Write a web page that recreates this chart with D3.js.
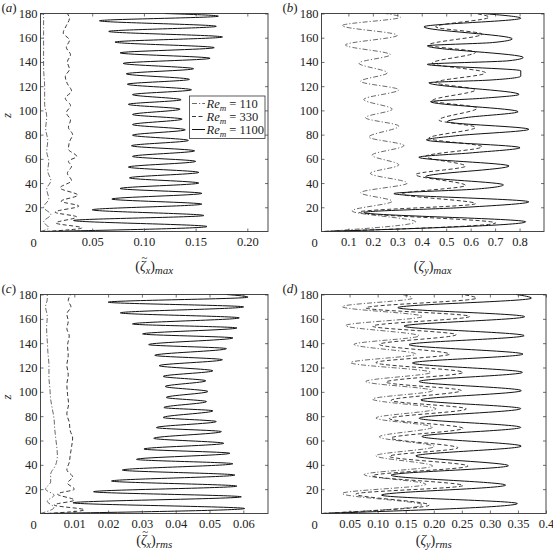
<!DOCTYPE html>
<html>
<head>
<meta charset="utf-8">
<script src="https://cdn.jsdelivr.net/npm/d3@7"></script>
<style>
  body { margin: 0; background: #fff; }
  text { font-family: "Liberation Serif", "DejaVu Serif", serif; fill: #222; }
</style>
</head>
<body>
<div id="chart"></div>
<script>
// z axis ticks shared by all panels
const zTicks = [20, 40, 60, 80, 100, 120, 140, 160, 180];

// x tick values / labels per panel
const ticksA = [0.05, 0.10, 0.15, 0.20];
const labelsA = ["0.05", "0.10", "0.15", "0.20"];
const ticksB = [0.1, 0.2, 0.3, 0.4, 0.5, 0.6, 0.7, 0.8];
const labelsB = ["0.1", "0.2", "0.3", "0.4", "0.5", "0.6", "0.7", "0.8"];
const ticksC = [0.01, 0.02, 0.03, 0.04, 0.05, 0.06];
const labelsC = ["0.01", "0.02", "0.03", "0.04", "0.05", "0.06"];
const ticksD = [0.05, 0.10, 0.15, 0.20, 0.25, 0.30, 0.35, 0.40];
const labelsD = ["0.05", "0.10", "0.15", "0.20", "0.25", "0.30", "0.35", "0.4"];

const legendRe = ["110", "330", "1100"];

// (a) max of tilde zeta_x
const a110z = [0, 3, 8, 14, 20, 27, 35, 42, 50, 58, 66, 75, 85, 95, 105, 120, 135, 150, 165, 180];
const a110v = [0.0, 0.008, 0.003, 0.010, 0.003, 0.008, 0.006, 0.010, 0.007, 0.008, 0.006, 0.007, 0.005, 0.006, 0.004, 0.004, 0.003, 0.003, 0.003, 0.003];
const a330z = [0, 3, 7, 12, 16, 21, 25, 30, 36, 42, 48, 54, 58, 62, 68, 74, 80, 86, 92, 98, 104, 110, 116, 122, 128, 134, 140, 146, 152, 158, 164, 170, 176, 180];
const a330v = [0.005, 0.040, 0.015, 0.035, 0.014, 0.037, 0.020, 0.036, 0.019, 0.030, 0.026, 0.030, 0.027, 0.035, 0.027, 0.028, 0.031, 0.027, 0.029, 0.025, 0.029, 0.024, 0.030, 0.026, 0.024, 0.028, 0.026, 0.029, 0.025, 0.028, 0.022, 0.025, 0.028, 0.026];
const a1100z = [0, 4.1, 9.1, 13.2, 17.9, 22.6, 26.8, 31.5, 35.5, 40, 44.3, 48.8, 53.2, 57.9, 62, 66.6, 70.8, 75.2, 79.5, 84, 88.3, 92.8, 96.6, 101, 105, 108.8, 113, 117, 121.6, 125.6, 130.2, 134.4, 138.8, 143, 147.5, 151.8, 156.4, 160.6, 165.2, 169.4, 174, 177.8, 180];
const a1100v = [0.002, 0.161, 0.032, 0.158, 0.050, 0.156, 0.069, 0.156, 0.077, 0.153, 0.086, 0.153, 0.085, 0.150, 0.089, 0.149, 0.088, 0.143, 0.089, 0.140, 0.089, 0.137, 0.089, 0.135, 0.085, 0.136, 0.089, 0.146, 0.084, 0.144, 0.083, 0.148, 0.080, 0.164, 0.077, 0.168, 0.072, 0.176, 0.066, 0.170, 0.057, 0.172, 0.12];

// (b) max of zeta_y
const b110z = [0, 8, 17, 25, 32, 40, 48, 55, 63, 71, 78, 87, 94, 101, 109, 117, 124, 131, 139, 146, 154, 162, 170, 177, 180];
const b110v = [0.0, 0.375, 0.115, 0.279, 0.150, 0.341, 0.190, 0.306, 0.197, 0.327, 0.184, 0.306, 0.170, 0.279, 0.163, 0.306, 0.150, 0.259, 0.143, 0.272, 0.088, 0.300, 0.075, 0.313, 0.252];
const b330z = [0, 7, 16, 23, 31, 38, 47, 54, 62, 70, 77, 86, 92, 102, 108, 117, 123, 131, 139, 148, 154, 163, 169, 177, 180];
const b330v = [0.0, 0.702, 0.143, 0.620, 0.320, 0.579, 0.375, 0.579, 0.416, 0.647, 0.429, 0.620, 0.470, 0.627, 0.443, 0.620, 0.457, 0.661, 0.443, 0.620, 0.429, 0.647, 0.457, 0.675, 0.620];
const b1100z = [0, 8, 15.7, 19.8, 24.5, 31.3, 35, 38.5, 45.3, 54.1, 61.3, 65, 69.2, 75.6, 79, 84.4, 90.7, 94, 98.9, 107.2, 110, 113.2, 122.8, 125, 128.3, 132.7, 138, 141, 143.7, 153.3, 156, 159.1, 169, 176.1, 180];
const b1100v = [0.0, 0.825, 0.163, 0.566, 0.838, 0.286, 0.620, 0.734, 0.416, 0.757, 0.388, 0.607, 0.802, 0.419, 0.538, 0.838, 0.504, 0.580, 0.794, 0.436, 0.648, 0.798, 0.429, 0.675, 0.805, 0.805, 0.423, 0.757, 0.815, 0.423, 0.689, 0.770, 0.409, 0.805, 0.648];

// (c) rms of tilde zeta_x
const c110z = [0, 5, 10, 15, 20, 26, 32, 40, 48, 55, 62, 70, 78, 86, 94, 102, 112, 122, 132, 142, 152, 162, 170, 176, 180];
const c110v = [0.0, 0.004, 0.002, 0.004, 0.0015, 0.003, 0.003, 0.0045, 0.005, 0.0048, 0.0045, 0.0042, 0.004, 0.0035, 0.003, 0.0028, 0.0025, 0.0025, 0.0022, 0.002, 0.0018, 0.002, 0.0015, 0.002, 0.002];
const c330z = [0, 3, 7, 11, 16, 20, 25, 30, 36, 42, 48, 55, 62, 68, 75, 82, 90, 98, 106, 114, 122, 130, 138, 146, 152, 158, 164, 170, 175, 180];
const c330v = [0.002, 0.013, 0.004, 0.010, 0.005, 0.010, 0.008, 0.0095, 0.0078, 0.0085, 0.0088, 0.0092, 0.0095, 0.0088, 0.0085, 0.0078, 0.0083, 0.008, 0.0078, 0.0082, 0.0078, 0.0082, 0.008, 0.0085, 0.0078, 0.0082, 0.0078, 0.009, 0.0082, 0.009];
const c1100z = [0, 4.1, 8.8, 13.7, 17.9, 22.5, 26.7, 31.6, 35.7, 40.9, 44.5, 49.5, 53, 57.7, 61.8, 67.3, 70.6, 75.6, 78.9, 84.4, 87.1, 92, 95.4, 100.3, 104.4, 109.1, 112.7, 117.3, 121.5, 126.4, 130, 135.5, 138.8, 144.3, 147.6, 152.5, 155.8, 160.8, 164.9, 169.8, 173.7, 177.8, 180];
const c1100v = [0.001, 0.0604, 0.0096, 0.0594, 0.0157, 0.0581, 0.0210, 0.0575, 0.0242, 0.0569, 0.0284, 0.0560, 0.0306, 0.0542, 0.0335, 0.0535, 0.0343, 0.0520, 0.0363, 0.0510, 0.0365, 0.0491, 0.0372, 0.0495, 0.0369, 0.0489, 0.0363, 0.0510, 0.0351, 0.0538, 0.0338, 0.0550, 0.0320, 0.0569, 0.0302, 0.0581, 0.0272, 0.0588, 0.0236, 0.0601, 0.0200, 0.0614, 0.055];

// (d) rms of zeta_y
const d110z = [0, 7, 16.5, 24, 32, 39, 47.5, 55, 63, 71, 78.5, 86, 94, 101, 108.5, 116, 124, 131, 139, 146, 154.5, 162, 170, 177, 180];
const d110v = [0.001, 0.180, 0.037, 0.186, 0.076, 0.198, 0.097, 0.201, 0.103, 0.198, 0.097, 0.204, 0.091, 0.198, 0.079, 0.195, 0.052, 0.168, 0.058, 0.174, 0.043, 0.180, 0.037, 0.162, 0.144];
const d330z = [0, 7, 16, 23, 31, 39, 47, 54, 62, 70, 78, 86, 93, 101, 108, 116, 124, 131, 139, 147, 154, 162, 169, 177, 180];
const d330v = [0.001, 0.192, 0.061, 0.252, 0.091, 0.261, 0.121, 0.243, 0.124, 0.252, 0.121, 0.258, 0.124, 0.249, 0.115, 0.252, 0.097, 0.228, 0.103, 0.240, 0.091, 0.264, 0.079, 0.276, 0.252];
const d1100z = [0, 8.2, 15.1, 23.3, 31.5, 39.3, 47.3, 55.4, 63.3, 70.8, 78.3, 86.2, 93.3, 101, 108.5, 116, 123.7, 131, 138.8, 146.2, 154, 161.8, 169.2, 177, 180];
const d1100v = [0.001, 0.349, 0.107, 0.328, 0.124, 0.333, 0.168, 0.356, 0.179, 0.355, 0.174, 0.355, 0.177, 0.356, 0.174, 0.358, 0.162, 0.359, 0.156, 0.361, 0.147, 0.362, 0.136, 0.374, 0.347];

const dashes = ["5,2,1.2,2", "4,2.5", null];
const strokes = ["#444", "#222", "#111"];
const widths = [0.8, 0.9, 1.0];

const panels = [
  { tag: "a", box: [40.5, 268, 13.5, 231.5], dom: [0, 0.22], ticks: ticksA, labels: labelsA, comp: "x", sub: "max", tilde: true, zlab: true, labOff: 39,
    series: [[a110z, a110v], [a330z, a330v], [a1100z, a1100v]], legend: true },
  { tag: "b", box: [321.5, 544, 13.5, 231.5], dom: [-0.01, 0.9], ticks: ticksB, labels: labelsB, comp: "y", sub: "max", tilde: false, zlab: false, labOff: 39,
    series: [[b110z, b110v], [b330z, b330v], [b1100z, b1100v]] },
  { tag: "c", box: [40.5, 268, 294.5, 513.5], dom: [0, 0.0673], ticks: ticksC, labels: labelsC, comp: "x", sub: "rms", tilde: true, zlab: true, labOff: 31,
    series: [[c110z, c110v], [c330z, c330v], [c1100z, c1100v]] },
  { tag: "d", box: [321.5, 546, 294.5, 513.5], dom: [0, 0.4], ticks: ticksD, labels: labelsD, comp: "y", sub: "rms", tilde: false, zlab: false, labOff: 31,
    series: [[d110z, d110v], [d330z, d330v], [d1100z, d1100v]] }
];

const svg = d3.select("#chart").append("svg")
  .attr("width", 553)
  .attr("height", 553);

panels.forEach(p => {
  const [l, r, t, b] = p.box;
  const x = d3.scaleLinear().domain(p.dom).range([l, r]);
  const y = d3.scaleLinear().domain([0, 180]).range([b, t]);
  const g = svg.append("g");

  const line = d3.line()
    .x(d => x(d[1]))
    .y(d => y(d[0]))
    .curve(d3.curveMonotoneY);

  p.series.forEach((s, i) => {
    const pts = s[0].map((z, k) => [z, s[1][k]]);
    g.append("path")
      .attr("d", line(pts))
      .attr("fill", "none")
      .attr("stroke", strokes[i])
      .attr("stroke-width", widths[i])
      .attr("stroke-dasharray", dashes[i]);
  });

  // axes, matlab style ticks pointing inwards
  g.append("g").attr("transform", `translate(0,${b})`)
    .call(d3.axisBottom(x).tickValues(p.ticks).tickFormat((d, i) => p.labels[i]).tickSize(-3).tickPadding(6));
  g.append("g").attr("transform", `translate(0,${t})`)
    .call(d3.axisTop(x).tickValues(p.ticks).tickFormat("").tickSize(-3));
  g.append("g").attr("transform", `translate(${l},0)`)
    .call(d3.axisLeft(y).tickValues(zTicks).tickSize(-3).tickPadding(3));
  g.append("g").attr("transform", `translate(${r},0)`)
    .call(d3.axisRight(y).tickValues(zTicks).tickFormat("").tickSize(-3));
  g.selectAll(".domain").remove();
  g.selectAll(".tick line").attr("stroke", "#333").attr("stroke-width", 0.7);
  g.selectAll(".tick text").style("font-family", "Liberation Serif").style("font-size", "12.5px").attr("fill", "#222");

  g.append("rect")
    .attr("x", l).attr("y", t)
    .attr("width", r - l).attr("height", b - t)
    .attr("fill", "none").attr("stroke", "#333").attr("stroke-width", 0.9);

  // corner zero
  g.append("text")
    .attr("x", l - 7).attr("y", b + 15)
    .attr("text-anchor", "middle")
    .style("font-size", "12.5px")
    .text("0");

  // panel tag
  const tg = g.append("text").attr("x", l - 39).attr("y", t - 2).style("font-size", "13px");
  tg.append("tspan").text("(");
  tg.append("tspan").style("font-style", "italic").text(p.tag);
  tg.append("tspan").text(")");

  // x label, tilde kept inside the same text as a shifted tspan
  const xl = g.append("text")
    .attr("x", (l + r) / 2).attr("y", b + p.labOff)
    .attr("text-anchor", "middle")
    .style("font-size", "14px");
  xl.append("tspan").text("(");
  xl.append("tspan").style("font-style", "italic").text("\u03B6");
  const tl = p.tilde ? xl.append("tspan").style("font-size", "11px").text("~") : null;
  const sx = xl.append("tspan").style("font-style", "italic").style("font-size", "10px").attr("dy", 3).text(p.comp);
  xl.append("tspan").attr("dy", -3).text(")");
  xl.append("tspan").style("font-style", "italic").style("font-size", "11px").attr("dy", 3).text(p.sub);

  if (tl) {
    const ze = xl.node().getExtentOfChar(1);
    const te = xl.node().getExtentOfChar(2);
    tl.attr("dx", -ze.width / 2 - te.width / 2 + 1.5).attr("dy", -9.5);
    sx.attr("dx", ze.width / 2 - te.width / 2 - 1.5).attr("dy", 12.5);
  }

  if (p.zlab) {
    g.append("text")
      .attr("transform", `translate(11,${(t + b) / 2 - 7}) rotate(-90)`)
      .attr("text-anchor", "middle")
      .style("font-size", "13px").style("font-style", "italic")
      .text("z");
  }

  if (p.legend) {
    const lg = g.append("g");
    lg.append("rect").attr("x", 189.5).attr("y", 96).attr("width", 75.5).attr("height", 42.5)
      .attr("fill", "#fff").attr("stroke", "#333").attr("stroke-width", 0.8);
    legendRe.forEach((v, i) => {
      const yy = 103.5 + i * 13;
      lg.append("line").attr("x1", 192).attr("x2", 205).attr("y1", yy).attr("y2", yy)
        .attr("stroke", strokes[i]).attr("stroke-width", widths[i]).attr("stroke-dasharray", dashes[i]);
      const tx = lg.append("text").attr("x", 206.5).attr("y", yy + 4).style("font-size", "12.5px");
      tx.append("tspan").style("font-style", "italic").text("Re");
      tx.append("tspan").style("font-style", "italic").style("font-size", "9px").attr("dy", 3).text("m");
      tx.append("tspan").attr("dy", -3).text(" = " + v);
    });
  }
});
</script>
</body>
</html>
